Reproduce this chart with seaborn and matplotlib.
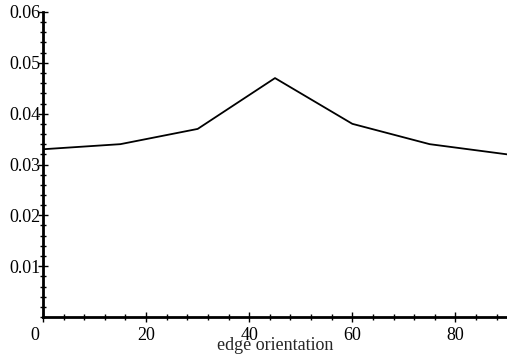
import matplotlib
matplotlib.use("Agg")
import matplotlib.pyplot as plt
import matplotlib.transforms as mtransforms
import seaborn as sns
import pandas as pd
from matplotlib.ticker import MultipleLocator

orientation = [0, 15, 30, 45, 60, 75, 90]
values = [0.033, 0.034, 0.037, 0.047, 0.038, 0.034, 0.032]
x_ticks = [0, 20, 40, 60, 80]
y_ticks = [0.01, 0.02, 0.03, 0.04, 0.05, 0.06]
x_label = "edge orientation"

sns.set_theme(style="ticks")
plt.rcParams['font.family'] = ['Liberation Serif', 'DejaVu Serif']

df = pd.DataFrame({"orientation": orientation, "value": values})

fig = plt.figure(figsize=(5.07, 3.58), dpi=100)
ax = fig.add_axes([43/507, 41/358, 1 - 43/507, (317-12)/358])
sns.lineplot(data=df, x="orientation", y="value", ax=ax, color="black", linewidth=1.3)

ax.set_xlim(0, 90)
ax.set_ylim(0, 0.06)
ax.set_xticks(x_ticks)
ax.set_xticklabels([str(t) for t in x_ticks])
ax.set_yticks(y_ticks)
ax.set_yticklabels([f"{t:.2f}" for t in y_ticks])
ax.xaxis.set_minor_locator(MultipleLocator(4))
ax.yaxis.set_minor_locator(MultipleLocator(0.002))
for s in ["top", "right"]:
    ax.spines[s].set_visible(False)
for s in ["left", "bottom"]:
    ax.spines[s].set_linewidth(2)
    ax.spines[s].set_color("black")
ax.tick_params(axis="both", which="major", direction="inout", length=7, width=1, colors="black", labelsize=13, pad=-2)
ax.tick_params(axis="both", which="minor", direction="inout", length=4, width=1, colors="black")
ax.tick_params(axis="x", which="major", pad=4)
ax.set_ylabel("")
ax.set_xlabel(x_label, fontsize=13, labelpad=-5)

# origin label sits slightly left of the axis, as in the reference
shift = mtransforms.ScaledTranslation(-8/100, 0, fig.dpi_scale_trans)
lbl0 = ax.get_xticklabels()[0]
lbl0.set_transform(lbl0.get_transform() + shift)

fig.savefig("out.png", dpi=100)
